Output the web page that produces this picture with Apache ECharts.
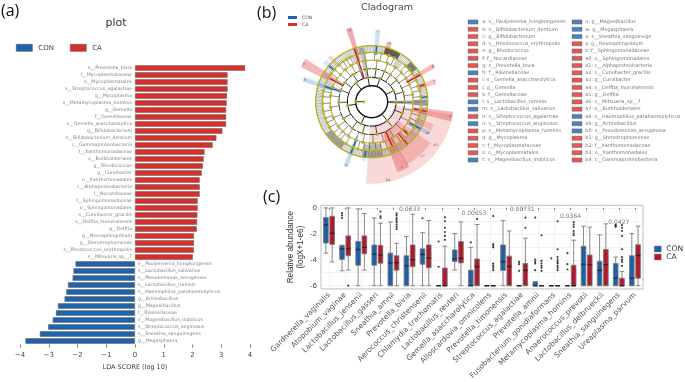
<!DOCTYPE html>
<html><head><meta charset="utf-8">
<script src="https://cdn.jsdelivr.net/npm/echarts@6/dist/echarts.min.js"></script>
<style>html,body{margin:0;padding:0;background:#fff}#c{width:685px;height:382px;filter:blur(.4px)}</style>
</head><body><div id="c"></div>
<script>
// ---- panel (a): LDA scores
const caTaxa=['s__Prevotella_bivia','f__Mycoplasmataceae','o__Mycoplasmatales','s__Streptococcus_agalactiae','g__Mycoplasma','s__Metamycoplasma_hominis','g__Gemella','f__Gemellaceae','s__Gemella_asaccharolytica','g__Bifidobacterium','s__Bifidobacterium_dentium','c__Gammaproteobacteria','f__Xanthomonadaceae','o__Burkholderiales','g__Rhodococcus','g__Curvibacter','o__Xanthomonadales','c__Alphaproteobacteria','f__Nocardiaceae','f__Sphingomonadaceae','o__Sphingomonadales','s__Curvibacter_gracilis','s__Delftia_tsuruhatensis','g__Delftia','g__Novosphingobium','g__Stenotrophomonas','s__Rhodococcus_erythropolis','s__Mitsuaria_sp__7'];
const caScores=[3.83,3.22,3.22,3.22,3.2,3.19,3.17,3.17,3.17,3.04,2.83,2.7,2.42,2.39,2.36,2.32,2.25,2.25,2.25,2.18,2.18,2.17,2.16,2.15,2.05,2.05,2.05,2.01];
const conTaxa=['s__Pauljensenia_hongkongensis','s__Lactobacillus_salivarius','s__Pseudomonas_aeruginosa','s__Lactobacillus_ruminis','s__Haemophilus_parahaemolyticus','g__Actinobacillus','g__Mageeibacillus','f__Rikenellaceae','s__Mageeibacillus_indolicus','s__Streptococcus_anginosus','s__Sneathia_sanguinegens','g__Megasphaera'];
const conScores=[-2.07,-2.14,-2.17,-2.33,-2.39,-2.45,-2.68,-2.75,-2.86,-3.02,-3.31,-3.81];

// ---- panel (b): legend entries, 0 = CON, 1 = CA
const cladeKeysLeft=['a: s__Pauljensenia_hongkongensis','b: s__Bifidobacterium_dentium','c: g__Bifidobacterium','d: s__Rhodococcus_erythropolis','e: g__Rhodococcus','f: f__Nocardiaceae','g: s__Prevotella_bivia','h: f__Rikenellaceae','i: s__Gemella_asaccharolytica','j: g__Gemella','k: f__Gemellaceae','l: s__Lactobacillus_ruminis','m: s__Lactobacillus_salivarius','n: s__Streptococcus_agalactiae','o: s__Streptococcus_anginosus','p: s__Metamycoplasma_hominis','q: g__Mycoplasma','r: f__Mycoplasmataceae','s: o__Mycoplasmatales','t: s__Mageeibacillus_indolicus'];
const cladeKeyGroupsLeft=[0,1,1,1,1,1,1,0,1,1,1,0,0,1,0,1,1,1,1,0];
const cladeKeysRight=['u: g__Mageeibacillus','w: g__Megasphaera','x: s__Sneathia_sanguinege','y: g__Novosphingobium','z: f__Sphingomonadaceae','a0: o__Sphingomonadales','a1: c__Alphaproteobacteria','a2: s__Curvibacter_gracilis','a3: g__Curvibacter','a4: s__Delftia_tsuruhatensis','a5: g__Delftia','a6: s__Mitsuaria_sp__7','a7: o__Burkholderiales','a8: s__Haemophilus_parahaemolyticus','a9: g__Actinobacillus','b0: s__Pseudomonas_aeruginosa','b1: g__Stenotrophomonas','b2: f__Xanthomonadaceae','b3: o__Xanthomonadales','b4: c__Gammaproteobacteria'];
const cladeKeyGroupsRight=[0,0,0,1,1,1,1,1,1,1,1,1,1,0,0,0,1,1,1,1];

// taxonomy: nested clades, a number is a count of terminal taxa
const cladeTree=[
 [[[5]]],
 [[[[2,3],[4]],[[3,2],[2,3]]],[[[4,2],[3]],[[2,3],[3,2]]],[[[3,4],[2]],[[3,3],[4]]]],
 [[[[3,2],[3]],[[2,3]]],[[[4,2],[2,2]],[2]]],
 [[[[3,3],[4]],[[2,2],[3]]],[[[4,3],[2,3]],[[3,2],[3]]],[[2,3,2]]],
 [[[[2,2],[3]],[[3,2]]],[[[3,2],[2]],[[2,2],[2]]],[[2,3]]],
 [[[[5,5]]]],
 [[[[3,2],[2,3]]],[[[4,2],[3]]],[[3,3]]],
 [[[[2,3],[3]],[[2,2]]],[[[4,3],[2]],[[3,2],[4]]]]
];
const ringRadii=[8,16,24.5,33,41.5,49.3,56];
const cladeStartAngle=88;
// shaded clades: inner radius, outer radius, start angle, end angle, group, opacity
const cladeBands=[[23,82,99,184,1,.2],[33,72,125,151,1,.24],[33,75,150,160,1,.36],[43,82,97,104,1,.36],[47,66,110,116,1,.22],[43,65,117,121,0,.3],[42,77,340.5,345,1,.42],[47,72,3,7,0,.26],[55,62,14,19,1,.36],[40,72,58,62,1,.36],[47,67,70,75,1,.28],[43,79,296,303,1,.36],[43,72,286,290,0,.3],[47,62,308,313,0,.22],[47,62,315,319,1,.22],[37,70,200,204,0,.3],[47,60,186,189,0,.2]];
// densely packed taxa seen as solid wedges: inner, outer, start, end, shade
const cladeDense=[[17,56,88,94,'#9c9c9c'],[23,55,346,352,'#b0b0b0'],[49,56,14,31,'#3a3a3a'],[49,56,44,54,'#666666'],[43,56,168,190,'#a5a5a5'],[49,56,213,235,'#999999']];
// coloured branches: angle, from radius, to radius, group
const cladeBranches=[[342,25,56,1],[5,47,56,0],[61,40,56,1],[72,50,56,1],[299,33,50,1],[288,33,50,0],[202,41,56,0],[155,33,50,1],[100,43,56,1],[119,43,56,0],[132,41,49,1],[17,50,56,1],[187,49,56,0],[85,49,56,0],[310,49,56,0],[140,41,56,1]];
// letters at the band ends: radius, angle, text
const cladeLetters=[[80,168,'b4'],[75,137,'a7'],[77,124,'a0'],[72,155,'s'],[80,100,'g'],[64,119,'a8'],[75,343,'g'],[70,5,'t'],[61,17,'d'],[71,60,'p'],[66,72,'n'],[77,299,'b'],[70,288,'h'],[68,202,'x']];

// ---- panel (c): boxes as [min, Q1, median, Q3, max]
const speciesNames=['Gardnerella_vaginalis','Atopobium_vaginae','Lactobacillus_jensenii','Lactobacillus_gasseri','Sneathia_amnii','Prevotella_bivia','Aerococcus_christensenii','Chlamydia_trachomatis','Lactobacillus_reuteri','Gemella_asaccharolytica','Alloscardovia_omnicolens','Prevotella_timonensis','Streptococcus_agalactiae','Prevotella_amnii','Fusobacterium_gonidiaformans','Metamycoplasma_hominis','Anaerococcus_prevotii','Lactobacillus_delbrueckii','Sneathia_sanguinegens','Ureaplasma_parvum'];
const conBoxes=[[-3.49,-2.71,-1.31,-.75,0],[-4.85,-3.97,-3.16,-2.89,-2.89],[-6,-4.42,-3.21,-2.59,-.08],[-6,-4.42,-3.57,-2.86,-.78],[-6,-6,-4.24,-3.49,-1.08],[-6,-6,-4.47,-3.69,-2.21],[-6,-4.34,-3.59,-3.16,-1.91],[-6,-6,-6,-6,-6],[-4.8,-4.14,-3.94,-3.24,-1.98],[-6,-6,-6,-4.8,-3.04],[-6,-6,-6,-6,-6],[-6,-4.82,-4.14,-2.86,-.98],[-6,-6,-6,-6,-6],[-6,-6,-6,-5.7,-5.7],[-6,-6,-6,-6,-6],[-6,-6,-6,-6,-6],[-6,-6,-4.34,-2.96,-1.41],[-6,-6,-4.82,-4.12,-2.08],[-6,-6,-5.42,-4.29,-3.79],[-6,-6,-5.42,-3.69,-1.98]];
const caBoxes=[[-4.17,-2.81,-1.96,-.65,0],[-4.8,-3.69,-3.16,-2.16,0],[-4.8,-3.54,-3.04,-2.16,-.43],[-6,-4.27,-3.64,-2.89,-1.18],[-6,-4.8,-4.22,-3.69,-2.74],[-6,-4.54,-3.99,-2.86,-.48],[-6,-4.62,-3.87,-2.86,-.98],[-6,-6,-6,-4.64,-2.96],[-6,-4.24,-3.89,-2.59,-1.08],[-6,-6,-4.52,-3.94,-1.28],[-6,-6,-6,-6,-6],[-6,-6,-4.52,-3.72,-1.78],[-6,-6,-4.82,-4.29,-2.33],[-6,-6,-6,-6,-6],[-6,-6,-6,-6,-6],[-6,-6,-6,-4.42,-2.49],[-6,-6,-4.39,-3.64,-1.48],[-6,-6,-4.39,-3.21,-1.23],[-6,-6,-6,-5.42,-4.9],[-6,-5.42,-3.67,-2.84,-1.41]];
const conOutliers=[[1,-.4],[1,-.58],[1,-.78],[6,-.8],[7,-2.59],[7,-4.54],[9,-2.66],[12,-4.17],[12,-4.34],[12,-4.85],[13,-.75],[13,-3.99],[13,-4.17],[13,-4.29],[13,-4.8],[14,-3.89],[15,-3.49],[15,-4.34],[15,-4.75],[18,-1.3],[18,-1.38],[18,-1.46]];
const caOutliers=[[1,-6],[3,-.28],[3,-.65],[3,-.78],[4,-.43],[4,-.58],[4,-.78],[4,-.93],[4,-1.1],[4,-1.28],[4,-1.46],[4,-1.63],[7,-.73],[7,-1.03],[7,-1.53],[7,-1.86],[7,-2.16],[7,-2.46],[9,-.85],[10,-.63],[10,-2.79],[10,-2.94],[10,-3.04],[10,-4.3],[10,-4.47],[10,-4.62],[10,-4.8],[12,-.75],[12,-1.53],[13,-2.11],[13,-4.09],[13,-4.29],[13,-4.47],[13,-4.62],[13,-4.85],[14,-1.03],[14,-3.19],[14,-3.79],[14,-3.99],[14,-4.17],[14,-4.29],[14,-4.47],[14,-4.62],[14,-4.8],[15,-1.1],[15,-1.28],[15,-1.46],[15,-1.78],[15,-1.96],[15,-2.11],[18,-1.33],[18,-1.53],[18,-1.78],[18,-2.16],[18,-3.19],[18,-3.79],[18,-3.99],[18,-4.17],[18,-4.47]];
const pValues=[[5,-.1,'0.0333'],[9,-.45,'0.00653'],[12,-.15,'0.00731'],[15,-.65,'0.0364'],[18,-1.15,'0.0427']];

const FONT='DejaVu Sans';
const A_BLUE='#2063ad',A_RED='#d92f2b',C_BLUE='#1f5ea8',C_RED='#b2182b';
const BAND=['#3f8fd0','#e03a3a'],LINE=['#1f63ad','#c81e1e'],OLIVE='#b5b428';

// lay the taxonomy out round the circle
let leafTotal=0;(function c(n){if(typeof n==='number')leafTotal+=n;else n.forEach(c)})(cladeTree);
const step=360/leafTotal;let leaf=0;
const arcRows=[],spokeRows=[],dotRows=[],leafRows=[];
function walk(node,level){
  if(typeof node==='number'){
    const out=[];
    for(let i=0;i<node;i++){const a=cladeStartAngle+step*leaf++;
      spokeRows.push([a,ringRadii[level-1],ringRadii[6],.3]);
      leafRows.push([ringRadii[6],a],[ringRadii[5],a]);out.push(a);}
    return [out[0],out[out.length-1]];
  }
  const sp=node.map(ch=>walk(ch,level+1));
  const a0=sp[0][0],a1=sp[sp.length-1][1],mid=(a0+a1)/2,w=level<=2?1:level===3?.8:.5;
  arcRows.push([ringRadii[level],a0,a1,w]);
  spokeRows.push([mid,ringRadii[level-1],ringRadii[level],w]);
  dotRows.push([ringRadii[level],mid]);
  return [a0,a1];
}
cladeTree.forEach(p=>walk(p,2));
arcRows.push([ringRadii[1],0,360,1.4]);
spokeRows.push([270,ringRadii[0],ringRadii[1],1]);
dotRows.push([ringRadii[0],270],[ringRadii[1],270]);

const deg=a=>(a-90)*Math.PI/180;
function pxR(api,r){const p=api.coord([r,0]),c=api.coord([0,0]);return Math.hypot(p[0]-c[0],p[1]-c[1]);}
const barLabel=(pos)=>({show:true,position:pos,distance:3,formatter:p=>p.value[1],color:'#5f5f5f',fontFamily:FONT,fontSize:4.7});
const rowsCat=caTaxa.concat(conTaxa);
const minus=v=>String(v).replace('-','\u2212');

const option={
 animation:false,backgroundColor:'#fff',textStyle:{fontFamily:FONT},
 title:[
  {text:'(a)',left:-4,top:-2,textStyle:{fontFamily:'Open Sans',fontWeight:'normal',fontSize:16,color:'#111'}},
  {text:'plot',left:111,top:13,textAlign:'center',textStyle:{fontWeight:'normal',fontSize:11,color:'#333'}},
  {text:'(b)',left:252,top:0,textStyle:{fontFamily:'Open Sans',fontWeight:'normal',fontSize:16,color:'#111'}},
  {text:'Cladogram',left:382,top:-2,textAlign:'center',textStyle:{fontWeight:'normal',fontSize:9.5,color:'#444'}},
  {text:'(c)',left:258,top:184,textStyle:{fontFamily:'Open Sans',fontWeight:'normal',fontSize:16,color:'#111'}}
 ],
 legend:[
  {left:11,top:39,icon:'rect',itemWidth:16,itemHeight:7,itemGap:16,selectedMode:false,textStyle:{fontSize:7,color:'#444',padding:[0,0,0,1]},
   data:[{name:'CON',itemStyle:{color:A_BLUE,borderColor:'#555',borderWidth:.6}},{name:'CA',itemStyle:{color:A_RED,borderColor:'#555',borderWidth:.6}}]},
  {left:283,top:10,orient:'vertical',icon:'rect',itemWidth:9,itemHeight:3,itemGap:2,selectedMode:false,textStyle:{fontSize:4.6,color:'#555'},
   data:[{name:'CON',itemStyle:{color:A_BLUE,borderWidth:0}},{name:'CA',itemStyle:{color:A_RED,borderWidth:0}}]},
  {left:649,top:240,orient:'vertical',icon:'rect',itemWidth:7,itemHeight:6,itemGap:0,selectedMode:false,textStyle:{fontSize:7.6,color:'#333'},
   data:[{name:'CON',itemStyle:{color:C_BLUE,borderColor:'#888',borderWidth:.5}},{name:'CA',itemStyle:{color:C_RED,borderColor:'#888',borderWidth:.5}}]}
 ],
 grid:[
  {left:20,width:230,top:64.5,height:280},
  {left:473,width:104,top:22,height:138},
  {left:321,width:322,top:205.3,height:85.7,show:true,borderColor:'#bdbdbd',borderWidth:1,backgroundColor:'#fff'}
 ],
 xAxis:[
  {gridIndex:0,type:'value',min:-4,max:4,interval:1,splitLine:{show:false},axisLine:{show:false},
   axisTick:{show:true,length:3,lineStyle:{color:'#444',width:.7}},
   axisLabel:{fontSize:7,color:'#444',margin:7,formatter:minus},
   name:'LDA SCORE (log 10)',nameLocation:'middle',nameGap:16,nameTextStyle:{fontSize:6.5,color:'#444'}},
  {gridIndex:1,type:'value',min:0,max:1,show:false},
  {gridIndex:2,type:'category',data:speciesNames,axisLine:{show:false},
   axisTick:{show:true,alignWithLabel:true,length:2,lineStyle:{color:'#888'}},
   splitLine:{show:true,alignWithLabel:true,interval:0,lineStyle:{color:'#eeeeee',width:.7}},
   axisLabel:{interval:0,rotate:45,fontSize:7.5,color:'#555',margin:5}}
 ],
 yAxis:[
  {gridIndex:0,type:'category',inverse:true,data:rowsCat,show:false},
  {gridIndex:1,type:'value',inverse:true,min:0,max:19,show:false},
  {gridIndex:2,type:'value',min:-6.25,max:.2,axisLine:{show:false},
   axisTick:{show:false,customValues:[0,-1,-2,-3,-4,-5,-6]},
   splitLine:{show:true,lineStyle:{color:'#eeeeee',width:.7}},
   axisLabel:{customValues:[0,-2,-4,-6],fontSize:8,color:'#444',margin:4,fontFamily:'Liberation Sans'},
   name:'Relative abundance\n(logX+1-e6)',nameLocation:'middle',nameRotate:90,nameGap:13,
   nameTextStyle:{fontFamily:'Liberation Sans',fontSize:8.2,color:'#333',lineHeight:10}}
 ],
 polar:{center:[371.7,101.7],radius:85},
 angleAxis:{type:'value',min:0,max:360,startAngle:90,show:false},
 radiusAxis:{type:'value',min:0,max:85,show:false},
 series:[
  // (a)
  {name:'CA',type:'bar',xAxisIndex:0,yAxisIndex:0,stack:'lda',barWidth:5.4,data:caScores.concat(conScores.map(()=>'-')),itemStyle:{color:A_RED,borderColor:'#666',borderWidth:.6}},
  {name:'CON',type:'bar',xAxisIndex:0,yAxisIndex:0,stack:'lda',barWidth:5.4,data:caScores.map(()=>'-').concat(conScores),itemStyle:{color:A_BLUE,borderColor:'#666',borderWidth:.6}},
  {type:'scatter',xAxisIndex:0,yAxisIndex:0,symbolSize:0,silent:true,data:caTaxa.map(n=>[0,n]),label:barLabel('left')},
  {type:'scatter',xAxisIndex:0,yAxisIndex:0,symbolSize:0,silent:true,data:conTaxa.map(n=>[0,n]),label:barLabel('right')},
  // (b) cladogram
  {type:'custom',coordinateSystem:'polar',clip:false,silent:true,data:cladeBands,
   renderItem:(p,api)=>({type:'sector',shape:{cx:p.coordSys.cx,cy:p.coordSys.cy,r0:pxR(api,api.value(0)),r:pxR(api,api.value(1)),startAngle:deg(api.value(2)),endAngle:deg(api.value(3)),clockwise:true},
     style:{fill:BAND[api.value(4)],opacity:api.value(5)}})},
  {type:'custom',coordinateSystem:'polar',clip:false,silent:true,data:cladeDense,
   dimensions:['r0','r1','a0','a1',{name:'shade',type:'ordinal'}],
   renderItem:(p,api)=>({type:'sector',shape:{cx:p.coordSys.cx,cy:p.coordSys.cy,r0:pxR(api,api.value(0)),r:pxR(api,api.value(1)),startAngle:deg(api.value(2)),endAngle:deg(api.value(3)),clockwise:true},
     style:{fill:cladeDense[p.dataIndex][4],opacity:.75}})},
  {type:'custom',coordinateSystem:'polar',clip:false,silent:true,data:spokeRows,
   renderItem:(p,api)=>{const a=api.value(0),s=api.coord([api.value(1),a]),e=api.coord([api.value(2),a]);
     return {type:'line',shape:{x1:s[0],y1:s[1],x2:e[0],y2:e[1]},style:{stroke:'#222',lineWidth:api.value(3)}};}},
  {type:'custom',coordinateSystem:'polar',clip:false,silent:true,data:arcRows,
   renderItem:(p,api)=>({type:'arc',shape:{cx:p.coordSys.cx,cy:p.coordSys.cy,r:pxR(api,api.value(0)),startAngle:deg(api.value(1)),endAngle:deg(api.value(2)),clockwise:true},
     style:{stroke:api.value(3)<.7?'#4a4a20':'#111',fill:null,lineWidth:api.value(3)}})},
  {type:'custom',coordinateSystem:'polar',clip:false,silent:true,data:ringRadii.slice(4).map(r=>[r]),
   renderItem:(p,api)=>({type:'arc',shape:{cx:p.coordSys.cx,cy:p.coordSys.cy,r:pxR(api,api.value(0)),startAngle:0,endAngle:Math.PI*2,clockwise:true},
     style:{stroke:OLIVE,fill:null,lineWidth:p.dataIndex===2?1.2:.8}})},
  {type:'custom',coordinateSystem:'polar',clip:false,silent:true,data:cladeBranches,
   renderItem:(p,api)=>{const a=api.value(0),s=api.coord([api.value(1),a]),e=api.coord([api.value(2),a]);
     return {type:'line',shape:{x1:s[0],y1:s[1],x2:e[0],y2:e[1]},style:{stroke:LINE[api.value(3)],lineWidth:1.4}};}},
  {type:'scatter',coordinateSystem:'polar',silent:true,symbolSize:1.4,itemStyle:{color:OLIVE},data:leafRows},
  {type:'scatter',coordinateSystem:'polar',silent:true,symbolSize:3.6,itemStyle:{color:OLIVE},data:dotRows},
  {type:'scatter',coordinateSystem:'polar',silent:true,symbolSize:0,data:cladeLetters.map(r=>[r[0],r[1],r[2]]),
   label:{show:true,position:'inside',formatter:p=>p.value[2],fontSize:3.6,color:'#555'}},
  // (b) key
  {type:'scatter',xAxisIndex:1,yAxisIndex:1,symbol:'rect',symbolSize:[10,4.2],silent:true,
   data:cladeKeysLeft.map((t,i)=>({value:[0,i],itemStyle:{color:[A_BLUE,A_RED][cladeKeyGroupsLeft[i]],borderColor:'#555',borderWidth:.4},label:{formatter:t}})),
   label:{show:true,position:'right',distance:4,fontSize:4.9,color:'#555'}},
  {type:'scatter',xAxisIndex:1,yAxisIndex:1,symbol:'rect',symbolSize:[10,4.2],silent:true,
   data:cladeKeysRight.map((t,i)=>({value:[1,i],itemStyle:{color:[A_BLUE,A_RED][cladeKeyGroupsRight[i]],borderColor:'#555',borderWidth:.4},label:{formatter:t}})),
   label:{show:true,position:'right',distance:3,fontSize:4.9,color:'#555'}},
  // (c)
  {name:'CON',type:'boxplot',xAxisIndex:2,yAxisIndex:2,boxWidth:[4.6,4.6],data:conBoxes,silent:true,itemStyle:{color:C_BLUE,borderColor:'#7a7a7a',borderWidth:.9}},
  {name:'CA',type:'boxplot',xAxisIndex:2,yAxisIndex:2,boxWidth:[4.6,4.6],data:caBoxes,silent:true,itemStyle:{color:C_RED,borderColor:'#7a7a7a',borderWidth:.9}},
  {type:'scatter',xAxisIndex:2,yAxisIndex:2,silent:true,symbol:'rect',symbolSize:[4.6,1.4],symbolOffset:[-3.15,0],itemStyle:{color:'#0d1a33'},data:conBoxes.map((b,i)=>[i,b[2]])},
  {type:'scatter',xAxisIndex:2,yAxisIndex:2,silent:true,symbol:'rect',symbolSize:[4.6,1.4],symbolOffset:[3.15,0],itemStyle:{color:'#2a0a12'},data:caBoxes.map((b,i)=>[i,b[2]])},
  {type:'scatter',xAxisIndex:2,yAxisIndex:2,silent:true,symbolSize:2.2,symbolOffset:[-3.15,0],itemStyle:{color:'#111'},data:conOutliers},
  {type:'scatter',xAxisIndex:2,yAxisIndex:2,silent:true,symbolSize:2.2,symbolOffset:[3.15,0],itemStyle:{color:'#111'},data:caOutliers},
  {type:'scatter',xAxisIndex:2,yAxisIndex:2,silent:true,symbolSize:0,data:pValues.map(r=>[r[0],r[1],r[2]]),
   label:{show:true,position:'inside',formatter:p=>p.value[2],fontSize:6,color:'#555'}}
 ]
};
echarts.init(document.getElementById('c')).setOption(option);
</script></body></html>
